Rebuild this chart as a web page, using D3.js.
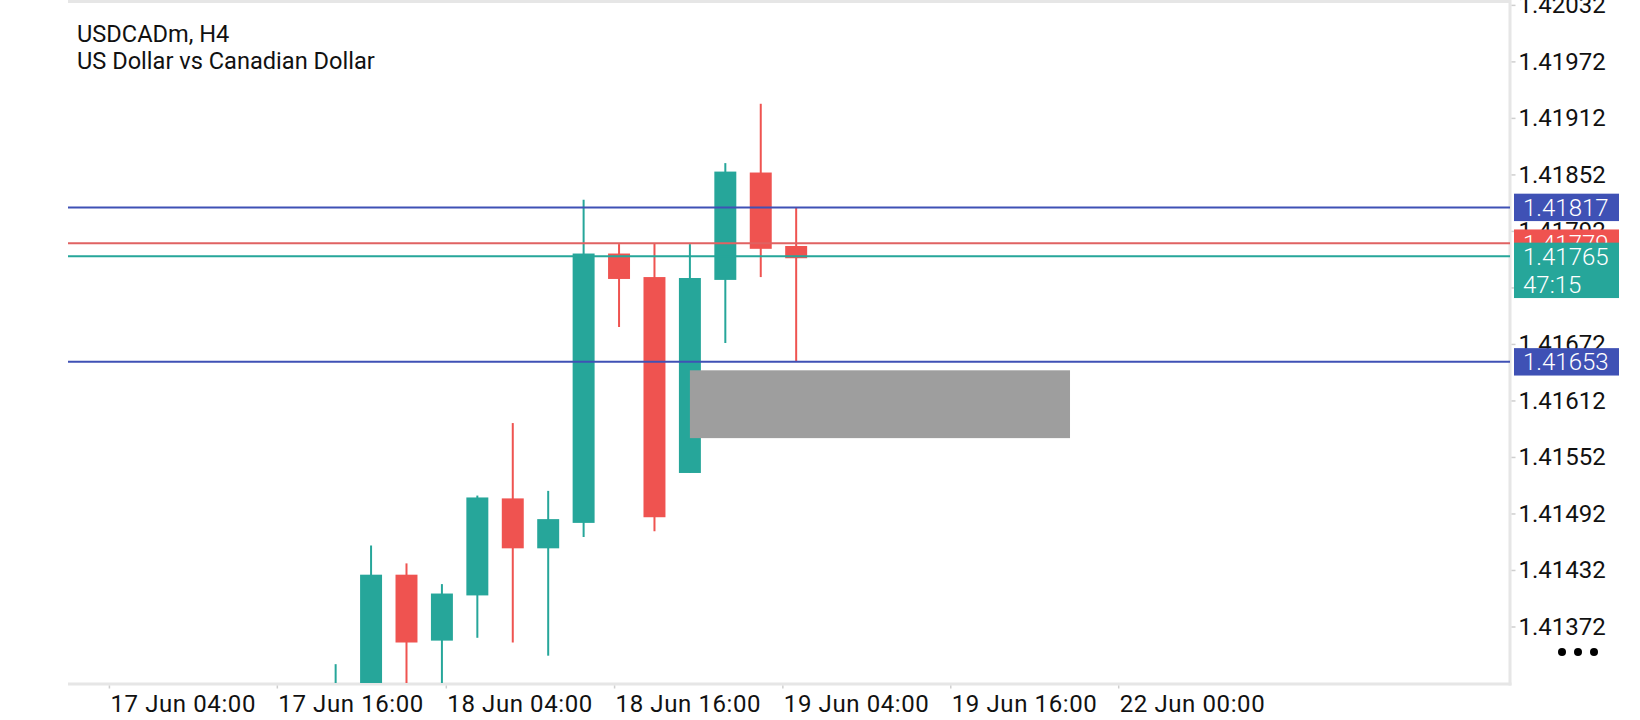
<!DOCTYPE html>
<html>
<head>
<meta charset="utf-8">
<script src="https://cdn.jsdelivr.net/npm/d3@7"></script>
<style>
  html, body { margin: 0; padding: 0; background: #fff; }
  svg { display: block; font-family: Roboto, "Noto Sans", sans-serif; }
</style>
</head>
<body>
<div id="container"></div>
<script>
// ==================== data ==================== //

const symbolTitle = "USDCADm, H4";
const symbolName = "US Dollar vs Canadian Dollar";

// bar index 0 is the first bar whose wick shows at the bottom
const opens  = [1.41280, 1.41300, 1.41427, 1.41357, 1.41405, 1.41508, 1.41455, 1.41482, 1.41768, 1.41743, 1.41535, 1.41740, 1.41854, 1.41776];
const highs  = [1.41332, 1.41458, 1.41439, 1.41417, 1.41511, 1.41588, 1.41516, 1.41825, 1.41778, 1.41778, 1.41778, 1.41864, 1.41927, 1.41817];
const lows   = [1.41240, 1.41285, 1.41295, 1.41300, 1.41360, 1.41355, 1.41341, 1.41467, 1.41690, 1.41473, 1.41535, 1.41673, 1.41743, 1.41653];
const closes = [1.41300, 1.41427, 1.41355, 1.41407, 1.41509, 1.41455, 1.41486, 1.41768, 1.41741, 1.41488, 1.41742, 1.41855, 1.41773, 1.41763];

const xTickLabels = ["17 Jun 04:00", "17 Jun 16:00", "18 Jun 04:00", "18 Jun 16:00", "19 Jun 04:00", "19 Jun 16:00", "22 Jun 00:00"];
const xTickBars   = [-6.40, -1.66, 3.11, 7.86, 12.61, 17.35, 22.09];

const yTicks = [1.41372, 1.41432, 1.41492, 1.41552, 1.41612, 1.41672, 1.41732, 1.41792, 1.41852, 1.41912, 1.41972, 1.42032];

const levelLines = [1.41817, 1.41653];
const askPrice = 1.41779;
const bidPrice = 1.41765;
const countdown = "47:15";

// zone rectangle: [start bar, end bar], [low, high]
const zoneBars = [10, 20.73];
const zonePrices = [1.41572, 1.41644];

// ==================== layout ==================== //

const width = 1640, height = 720;
const plot = { left: 68, right: 1510, top: 3, bottom: 683 };

const teal = "#26a69a", red = "#ef5350", blue = "#3f51b5", frame = "#e6e6e6";

const x = d3.scaleLinear().domain([-7.555, 33.15]).range([plot.left, plot.right]);
const y = d3.scaleLinear().domain([1.41312, 1.42034]).range([plot.bottom, plot.top]);

const candles = opens.map((o, i) => ({ i, o, h: highs[i], l: lows[i], c: closes[i] }));
const bodyW = (x(1) - x(0)) * 0.62;

const svg = d3.select("#container").append("svg")
    .attr("width", width)
    .attr("height", height);

svg.append("defs").append("clipPath").attr("id", "plotClip")
    .append("rect")
    .attr("x", plot.left).attr("y", plot.top)
    .attr("width", plot.right - plot.left).attr("height", plot.bottom - plot.top);

// frame
svg.append("line").attr("x1", plot.left).attr("x2", plot.right).attr("y1", 1.5).attr("y2", 1.5)
    .attr("stroke", frame).attr("stroke-width", 3);
svg.append("line").attr("x1", plot.left).attr("x2", plot.right + 1.5).attr("y1", plot.bottom + 1).attr("y2", plot.bottom + 1)
    .attr("stroke", frame).attr("stroke-width", 3);
svg.append("line").attr("x1", plot.right).attr("x2", plot.right).attr("y1", 0).attr("y2", plot.bottom + 2.5)
    .attr("stroke", frame).attr("stroke-width", 3);

// title
svg.append("text").attr("x", 77).attr("y", 42).attr("font-size", 23.6).attr("fill", "#111").text(symbolTitle);
svg.append("text").attr("x", 77).attr("y", 69).attr("font-size", 23.6).attr("fill", "#111").text(symbolName);

// candles
const g = svg.append("g").attr("clip-path", "url(#plotClip)");

g.selectAll("line.wick")
    .data(candles)
    .join("line")
    .attr("class", "wick")
    .attr("x1", d => x(d.i)).attr("x2", d => x(d.i))
    .attr("y1", d => y(d.h)).attr("y2", d => y(d.l))
    .attr("stroke", d => d.c >= d.o ? teal : red)
    .attr("stroke-width", 2);

g.selectAll("rect.body")
    .data(candles)
    .join("rect")
    .attr("class", "body")
    .attr("x", d => x(d.i) - bodyW / 2)
    .attr("width", bodyW)
    .attr("y", d => y(Math.max(d.o, d.c)))
    .attr("height", d => Math.max(1, Math.abs(y(d.o) - y(d.c))))
    .attr("fill", d => d.c >= d.o ? teal : red);

// zone
g.append("rect")
    .attr("x", x(zoneBars[0]))
    .attr("width", x(zoneBars[1]) - x(zoneBars[0]))
    .attr("y", y(zonePrices[1]))
    .attr("height", y(zonePrices[0]) - y(zonePrices[1]))
    .attr("fill", "#9e9e9e");

// price lines
g.selectAll("line.level")
    .data(levelLines)
    .join("line")
    .attr("class", "level")
    .attr("x1", plot.left).attr("x2", plot.right)
    .attr("y1", d => y(d)).attr("y2", d => y(d))
    .attr("stroke", blue).attr("stroke-width", 2);

g.append("line")
    .attr("x1", plot.left).attr("x2", plot.right)
    .attr("y1", y(askPrice)).attr("y2", y(askPrice))
    .attr("stroke", "#e06262").attr("stroke-width", 2);
g.append("line")
    .attr("x1", plot.left).attr("x2", plot.right)
    .attr("y1", y(bidPrice)).attr("y2", y(bidPrice))
    .attr("stroke", teal).attr("stroke-width", 2);

// y axis
const yAxis = svg.append("g")
    .attr("transform", `translate(${plot.right + 1.5},0)`)
    .call(d3.axisRight(y).tickValues(yTicks).tickFormat(d3.format(".5f")).tickSize(4).tickPadding(3));
yAxis.select(".domain").remove();
yAxis.selectAll(".tick line").attr("stroke", "#cfcfcf").attr("stroke-width", 1.5);
yAxis.selectAll(".tick text")
    .attr("font-family", "Roboto, sans-serif")
    .attr("font-size", 24)
    .attr("fill", "#111");

// x axis
const xAxis = svg.append("g")
    .attr("transform", `translate(0,${plot.bottom + 2.5})`)
    .call(d3.axisBottom(x).tickValues(xTickBars).tickFormat((d, k) => xTickLabels[k]).tickSize(3).tickPadding(6));
xAxis.select(".domain").remove();
xAxis.selectAll(".tick line").attr("stroke", "#cfcfcf").attr("stroke-width", 1.5);
xAxis.selectAll(".tick text")
    .attr("font-family", "Roboto, sans-serif")
    .attr("font-size", 24)
    .attr("fill", "#111")
    .attr("text-anchor", "start")
    .attr("x", 1)
    .attr("dy", "0.71em")
    .attr("letter-spacing", 0.6);

// price labels on the right
const boxX = 1514, boxW = 105, boxH = 27.4;
function priceBox(price, color, lines) {
    const cy = y(price);
    const h = boxH + (lines.length - 1) * 28;
    svg.append("rect")
        .attr("x", boxX).attr("y", cy - boxH / 2)
        .attr("width", boxW).attr("height", h)
        .attr("fill", color);
    lines.forEach((t, k) => {
        svg.append("text")
            .attr("x", boxX + 9)
            .attr("y", cy + k * 28)
            .attr("dy", "0.35em")
            .attr("font-size", 24)
            .attr("font-weight", 300)
            .attr("fill", "#fff")
            .text(t);
    });
}
const fmt = d3.format(".5f");
priceBox(levelLines[0], blue, [fmt(levelLines[0])]);
priceBox(askPrice, red, [fmt(askPrice)]);
priceBox(bidPrice, teal, [fmt(bidPrice), countdown]);
priceBox(levelLines[1], blue, [fmt(levelLines[1])]);

// menu dots
svg.selectAll("circle.dot")
    .data([0, 1, 2])
    .join("circle")
    .attr("class", "dot")
    .attr("cx", d => 1562 + d * 16)
    .attr("cy", 652)
    .attr("r", 4)
    .attr("fill", "#000");
</script>
</body>
</html>
